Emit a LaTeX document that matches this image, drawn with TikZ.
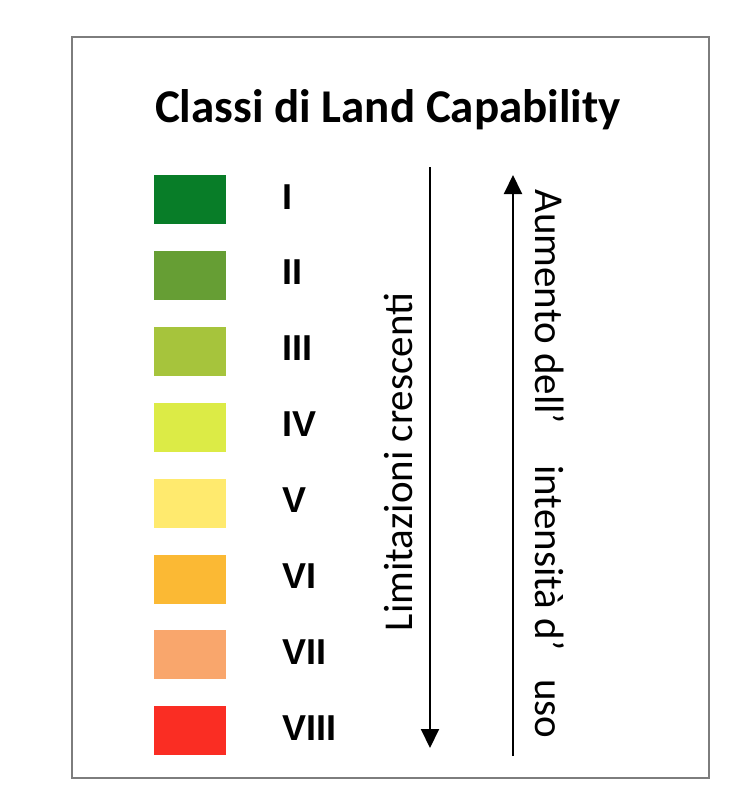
\documentclass[tikz,border=0pt]{standalone}
\usepackage{fontspec}
\setmainfont{Carlito}
\newfontfamily\numfont{Liberation Sans}
\usetikzlibrary{arrows.meta}
\definecolor{lcI}{RGB}{8,125,40}
\definecolor{lcII}{RGB}{102,158,52}
\definecolor{lcIII}{RGB}{166,196,60}
\definecolor{lcIV}{RGB}{220,235,70}
\definecolor{lcV}{RGB}{255,234,110}
\definecolor{lcVI}{RGB}{251,185,52}
\definecolor{lcVII}{RGB}{249,166,108}
\definecolor{lcVIII}{RGB}{250,45,35}
\definecolor{framegray}{RGB}{125,125,125}
\begin{document}
\begin{tikzpicture}[x=1pt,y=-1pt,line cap=butt,>={Triangle[width=18pt,length=19pt]},
	swatch/.style={minimum width=72pt,minimum height=49pt,inner sep=0pt},
	classlab/.style={anchor=base west,inner sep=0pt,font=\fontsize{36}{40}\selectfont\numfont\bfseries},
	sidetext/.style={anchor=base,inner sep=0pt,font=\fontsize{41}{46}\selectfont}]
	\useasboundingbox (0,0) rectangle (732,809);
	\draw[framegray,line width=1.2pt] (72,37) rectangle (709,778);
	\node[anchor=base,inner sep=0pt,font=\fontsize{47}{52}\selectfont\bfseries] (title) at (388,122) {Classi di Land Capability};
	% swatches and class numbers
	\foreach \i/\lab in {1/I,2/II,3/III,4/IV,5/V,6/VI,7/VII,8/VIII}{
		\node[swatch,fill=lc\lab] (sw\i) at (190,{199.5+75.9*(\i-1)}) {};
		\node[classlab] (lab\i) at (282,{209+75.9*(\i-1)}) {\lab};
	}
	% arrows
	\coordinate (limtop) at (430,167);
	\coordinate (limbot) at (430,748);
	\coordinate (usebot) at (513,756);
	\coordinate (usetop) at (513,175);
	\draw[->,line width=2pt] (limtop) -- (limbot);
	\draw[->,line width=2pt] (usebot) -- (usetop);
	\node[sidetext,rotate=90] (lim) at (412,462) {Limitazioni crescenti};
	\node[sidetext,rotate=-90] (uso) at (535,464) {Aumento dell’\hspace{41pt}intensità d’\hspace{29pt}uso};
\end{tikzpicture}
\end{document}
